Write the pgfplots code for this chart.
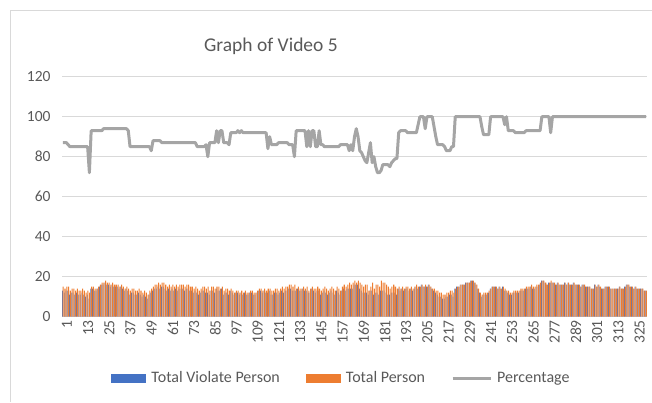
\documentclass[border=0pt]{standalone}
\usepackage{fontspec}
\setmainfont{Carlito}
\usepackage{pgfplots}
\usepackage{pgfplotstable}
\pgfplotsset{compat=1.18}
\definecolor{cblue}{HTML}{4472C4}
\definecolor{corange}{HTML}{ED7D31}
\definecolor{cgray}{HTML}{A5A5A5}
\definecolor{cgrid}{HTML}{D9D9D9}
\definecolor{ctext}{HTML}{595959}
\pgfplotstableread{
x V T P
1 13 15 87
2 12 14 87
3 13 15 87
4 13 15 86
5 11 13 85
6 12 14 85
7 12 14 85
8 11 13 85
9 12 14 85
10 11 13 85
11 11 13 85
12 12 14 85
13 11 13 85
14 10 12 85
15 11 13 85
16 9 12 72
17 14 15 93
18 14 15 93
19 13 14 93
20 13 14 93
21 14 15 93
22 15 16 93
23 16 17 93
24 16 17 94
25 17 18 94
26 16 17 94
27 16 17 94
28 15 16 94
29 16 17 94
30 15 16 94
31 15 16 94
32 15 16 94
33 14 15 94
34 15 16 94
35 14 15 94
36 13 14 94
37 14 15 94
38 13 14 93
39 11 13 85
40 12 14 85
41 12 14 85
42 11 13 85
43 11 13 85
44 12 14 85
45 11 13 85
46 10 12 85
47 11 13 85
48 10 12 85
49 9 11 85
50 11 13 85
51 12 14 83
52 13 15 88
53 14 16 88
54 14 16 88
55 15 17 88
56 14 16 88
57 15 17 87
58 15 17 87
59 14 16 87
60 13 15 87
61 14 16 87
62 13 15 87
63 14 16 87
64 13 15 87
65 14 16 87
66 13 15 87
67 14 16 87
68 14 16 87
69 14 16 87
70 13 15 87
71 14 16 87
72 14 16 87
73 13 15 87
74 13 15 87
75 12 14 87
76 13 15 87
77 12 14 85
78 11 13 85
79 12 14 85
80 13 15 85
81 13 15 85
82 12 14 86
83 12 15 80
84 11 13 87
85 13 15 87
86 13 15 87
87 12 14 87
88 14 15 93
89 13 15 87
90 13 14 93
91 14 15 93
92 11 13 87
93 12 14 87
94 12 14 87
95 11 13 86
96 13 14 92
97 12 13 92
98 11 12 92
99 12 13 92
100 12 13 93
101 11 12 92
102 12 13 93
103 11 12 92
104 12 13 92
105 11 12 92
106 11 12 92
107 12 13 92
108 12 13 92
109 11 12 92
110 11 12 92
111 12 13 92
112 13 14 92
113 13 14 92
114 12 13 92
115 13 14 92
116 12 13 92
117 12 14 84
118 13 14 90
119 11 13 86
120 11 13 86
121 12 14 86
122 12 14 86
123 11 13 87
124 12 14 87
125 13 15 87
126 12 14 87
127 13 15 87
128 13 15 87
129 14 16 86
130 14 16 86
131 13 15 86
132 13 16 80
133 13 14 93
134 14 15 93
135 13 14 93
136 13 14 93
137 14 15 93
138 13 14 93
139 13 15 85
140 12 13 93
141 12 14 85
142 14 15 93
143 13 14 93
144 12 14 85
145 13 15 85
146 13 14 93
147 11 13 86
148 12 14 86
149 13 15 85
150 12 14 85
151 11 13 85
152 12 14 85
153 13 15 85
154 12 14 85
155 11 13 85
156 13 15 85
157 12 14 85
158 11 13 86
159 13 15 86
160 14 16 86
161 13 15 86
162 14 16 86
163 14 17 83
164 14 16 86
165 14 17 83
166 16 18 90
167 16 17 94
168 16 18 90
169 14 17 83
170 13 16 82
171 12 15 80
172 12 16 78
173 12 16 77
174 11 13 82
175 13 15 87
176 13 17 77
177 11 14 80
178 12 16 75
179 12 16 72
180 11 15 72
181 13 18 73
182 13 17 76
183 13 17 76
184 12 16 76
185 11 15 76
186 11 14 75
187 12 15 77
188 12 16 78
189 12 15 79
190 11 14 79
191 14 15 92
192 13 14 93
193 14 15 93
194 13 14 93
195 14 15 93
196 14 15 92
197 13 14 92
198 14 15 92
199 13 14 92
200 14 15 92
201 15 16 92
202 14 15 96
203 15 15 100
204 16 16 100
205 15 15 100
206 15 16 94
207 15 15 100
208 16 16 100
209 15 15 100
210 14 14 100
211 13 14 95
212 12 13 90
213 11 13 86
214 10 12 86
215 10 12 86
216 9 11 86
217 9 11 85
218 10 12 83
219 10 12 83
220 11 13 83
221 11 13 85
222 10 12 85
223 14 14 100
224 15 15 100
225 15 15 100
226 16 16 100
227 16 16 100
228 16 16 100
229 17 17 100
230 17 17 100
231 17 17 100
232 18 18 100
233 18 18 100
234 17 17 100
235 16 16 100
236 14 14 100
237 12 12 100
238 10 11 95
239 11 12 91
240 11 12 91
241 11 12 91
242 12 13 91
243 14 14 100
244 15 15 100
245 15 15 100
246 15 15 100
247 14 14 100
248 15 15 100
249 14 14 100
250 15 15 100
251 13 14 96
252 13 13 100
253 12 13 93
254 11 12 93
255 11 12 93
256 12 13 93
257 12 13 92
258 12 13 92
259 12 13 92
260 13 14 92
261 13 14 92
262 13 14 92
263 14 15 93
264 14 15 93
265 14 15 93
266 15 16 93
267 14 15 93
268 14 15 93
269 15 16 93
270 15 16 93
271 16 17 93
272 18 18 100
273 18 18 100
274 17 17 100
275 16 16 100
276 17 17 100
277 17 18 92
278 17 17 100
279 17 17 100
280 16 16 100
281 17 17 100
282 16 16 100
283 16 16 100
284 16 16 100
285 17 17 100
286 16 16 100
287 17 17 100
288 16 16 100
289 16 16 100
290 17 17 100
291 16 16 100
292 16 16 100
293 16 16 100
294 15 15 100
295 16 16 100
296 16 16 100
297 15 15 100
298 15 15 100
299 15 15 100
300 14 14 100
301 14 14 100
302 16 16 100
303 15 15 100
304 16 16 100
305 15 15 100
306 14 14 100
307 14 14 100
308 15 15 100
309 15 15 100
310 15 15 100
311 14 14 100
312 14 14 100
313 14 14 100
314 14 14 100
315 14 14 100
316 15 15 100
317 14 14 100
318 14 14 100
319 15 15 100
320 16 16 100
321 16 16 100
322 15 15 100
323 15 15 100
324 14 14 100
325 15 15 100
326 14 14 100
327 14 14 100
328 14 14 100
329 14 14 100
330 13 13 100
331 13 13 100
}\data
\begin{document}
\begin{tikzpicture}
\path[use as bounding box] (0pt,0pt) rectangle (652pt,402pt);
\draw[cgrid, line width=0.75pt] (10pt,0pt) -- (10pt,392pt) -- (652pt,392pt);
\node[text=ctext, anchor=base, font=\fontsize{19.5}{23}\selectfont] at (271pt,350pt) {Graph of Video 5};
\begin{axis}[
  at={(62pt,85.3pt)}, anchor=south west, scale only axis,
  width=585pt, height=240pt,
  xmin=0.5, xmax=331.5, ymin=0, ymax=120,
  ytick={0,20,...,120}, xtick={1,13,...,325},
  axis line style={draw=none},
  major tick length=0pt,
  ymajorgrids, major grid style={cgrid, line width=0.75pt},
  tick label style={text=ctext, font=\fontsize{15.5}{18}\selectfont},
  /pgf/number format/assume math mode=true,
  yticklabel style={xshift=-8pt},
  xticklabel style={rotate=90, anchor=east, yshift=-4pt},
  legend style={at={(0.4778,-0.2554)}, anchor=center, draw=none, fill=none,
    font=\fontsize{16}{19}\selectfont, text=ctext,
    /tikz/every odd column/.append style={column sep=3pt},
    /tikz/every even column/.append style={column sep=24pt}},
  legend columns=3,
  clip=false,
]
\addplot[ybar, bar width=0.42, bar shift=-0.24, fill=cblue, draw=none,
  legend image code/.code={\fill[cblue] (0pt,-4.5pt) rectangle (35pt,4.5pt);}]
  table[x=x, y=V] {\data};
\addlegendentry{Total Violate Person}
\addplot[ybar, bar width=0.58, bar shift=0.2, fill=corange, draw=none,
  legend image code/.code={\fill[corange] (0pt,-4.5pt) rectangle (35pt,4.5pt);}]
  table[x=x, y=T] {\data};
\addlegendentry{Total Person}
\addplot[cgray, line width=3pt, line join=round, mark=none,
  legend image code/.code={\draw[cgray, line width=3pt] (0pt,0pt) -- (38pt,0pt);}]
  table[x=x, y=P] {\data};
\addlegendentry{Percentage}
\end{axis}
\end{tikzpicture}
\end{document}
